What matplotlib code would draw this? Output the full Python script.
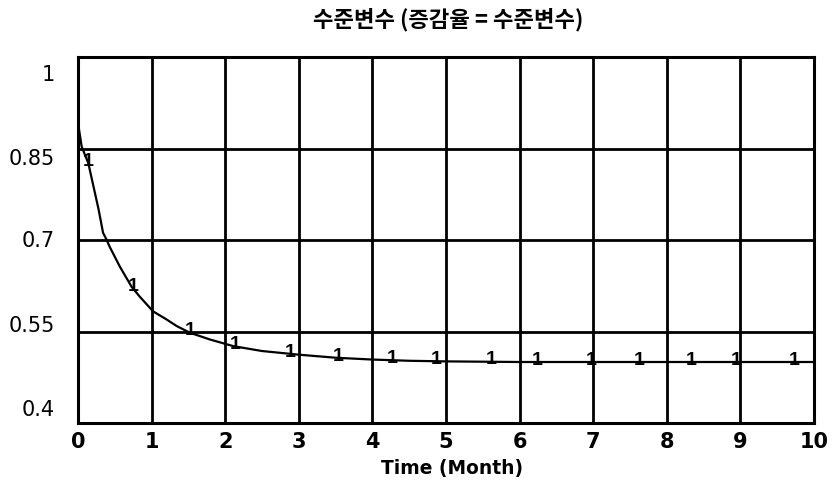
import numpy as np
import matplotlib
matplotlib.use("Agg")
import matplotlib.pyplot as plt
from matplotlib.transforms import ScaledTranslation

# Data
time = [0.0, 0.05, 0.14, 0.21, 0.28, 0.34, 0.39, 0.43, 0.57, 0.73, 0.84, 1.02,
        1.2, 1.34, 1.52, 1.79, 2.11, 2.5, 3.0, 3.5, 4.0, 4.5, 5.0, 6.0, 7.0,
        8.0, 9.0, 10.0]
level = [0.892, 0.853, 0.826, 0.788, 0.750, 0.712, 0.700, 0.689, 0.656, 0.623,
         0.607, 0.583, 0.570, 0.559, 0.548, 0.537, 0.526, 0.518, 0.512, 0.507,
         0.504, 0.502, 0.501, 0.500, 0.500, 0.500, 0.500, 0.500]
marker_times = [0.14, 0.75, 1.52, 2.13, 2.88, 3.53, 4.27, 4.87, 5.62, 6.24,
                6.97, 7.62, 8.33, 8.94, 9.73]
x_ticks = [0, 1, 2, 3, 4, 5, 6, 7, 8, 9, 10]
y_ticks = [0.4, 0.55, 0.7, 0.85, 1.0]
y_tick_labels = ["0.4", "0.55", "0.7", "0.85", "1"]
title = "수준변수 (증감율 = 수준변수)"
xlabel = "Time (Month)"

W, H = 835, 489
fig = plt.figure(figsize=(W / 100, H / 100), dpi=100)
ax = fig.add_axes([78 / W, 1 - 424 / H, (814 - 78) / W, (424 - 58) / H])

ax.plot(time, level, color="black", lw=1.6, zorder=3)
marker_vals = np.interp(marker_times, time, level)
for t, v in zip(marker_times, marker_vals):
    ax.annotate("1", (t, v), xytext=(0, 2), textcoords="offset points",
                ha="center", va="center", fontsize=14, fontweight="bold",
                family="Liberation Sans", color="black", zorder=4)

ax.set_xlim(0, 10)
ax.set_ylim(0.4, 1.0)
ax.set_xticks(x_ticks)
ax.set_xticklabels([str(v) for v in x_ticks], fontsize=15, fontweight="bold",
                   family="DejaVu Sans")
ax.set_yticks(y_ticks)
ax.set_yticklabels([])
ax.tick_params(axis="both", length=0)
ax.tick_params(axis="x", pad=6)
ax.grid(True, color="black", lw=2)
for s in ax.spines.values():
    s.set_linewidth(2.2)
    s.set_color("black")

# y labels (Vensim style: slightly pulled toward the middle)
label_shift_px = [14, 6, 0, -10, -17]
for yv, lab, dy in zip(y_ticks, y_tick_labels, label_shift_px):
    tr = ax.get_yaxis_transform() + ScaledTranslation(-23 / 100, dy / 100, fig.dpi_scale_trans)
    ax.text(0, yv, lab, transform=tr, ha="right", va="center", fontsize=15,
            family="DejaVu Sans", color="black")

fig.text(452 / W, 1 - 469 / H, xlabel, ha="center", va="center", fontsize=13.4,
         fontweight="bold", family="DejaVu Sans")
fig.text(448 / W, 1 - 20 / H, title, ha="center", va="center",
         fontsize=16, fontweight="bold", family=["Noto Sans CJK KR", "DejaVu Sans"])

fig.savefig("out.png", dpi=100)
